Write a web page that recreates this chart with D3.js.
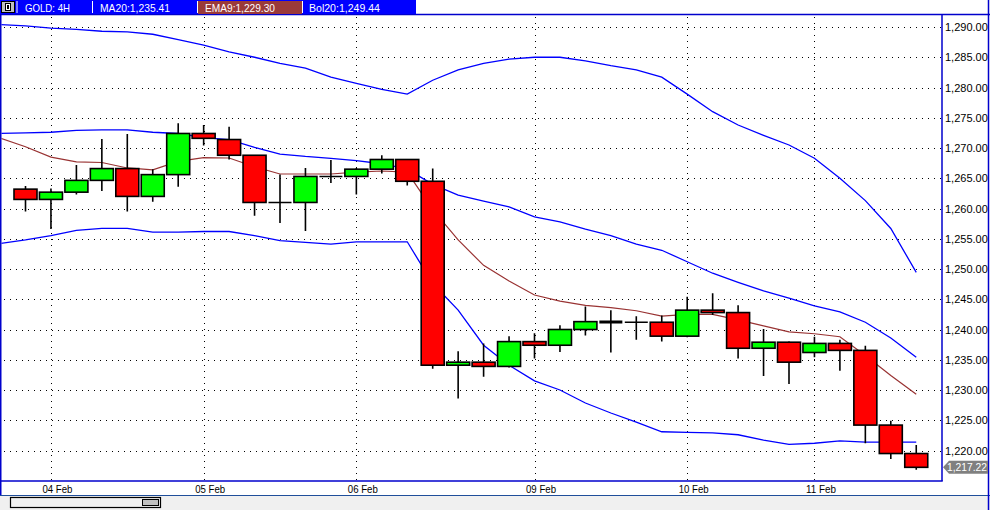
<!DOCTYPE html>
<html><head><meta charset="utf-8">
<script src="https://cdn.jsdelivr.net/npm/d3@7"></script>
<style>
html,body{margin:0;padding:0;background:#fff;overflow:hidden}
svg{display:block;font-family:"Liberation Sans",Arial,sans-serif}
</style></head><body>
<svg id="chart" width="990" height="510"></svg>
<script>
// ---------- data ----------
const symbolLabel = "GOLD: 4H";
const legendLabels = ["MA20:1,235.41", "EMA9:1,229.30", "Bol20:1,249.44"];
const lastClose = 1217.22;

const opens  = [1263.2,1261.5,1262.7,1264.65,1266.6,1262.0,1265.6,1272.4,1271.4,1268.8,1261.0,1261.0,1265.3,1265.3,1266.5,1268.1,1264.5,1234.1,1234.6,1233.9,1238.0,1237.4,1240.0,1241.3,1241.2,1241.2,1238.9,1243.2,1242.8,1236.9,1237.9,1236.2,1237.7,1236.55,1224.2,1219.5];
const highs  = [1263.7,1263.3,1267.2,1271.5,1272.3,1266.5,1274.1,1273.8,1273.5,1268.8,1265.6,1266.7,1268.0,1266.7,1268.8,1268.1,1266.6,1236.4,1237.7,1238.9,1239.4,1240.7,1243.8,1243.2,1242.2,1242.3,1245.4,1246.0,1244.0,1240.1,1238.0,1238.8,1238.3,1237.3,1224.9,1220.9];
const lows   = [1259.5,1256.6,1262.3,1262.9,1259.5,1261.1,1263.6,1270.4,1268.1,1258.8,1257.6,1256.3,1264.2,1262.3,1265.8,1263.8,1233.5,1228.6,1232.2,1233.7,1235.2,1236.3,1239.0,1236.2,1238.3,1238.0,1238.7,1242.4,1235.2,1232.3,1231.0,1235.4,1233.2,1221.2,1218.6,1216.8];
const closes = [1261.5,1262.7,1264.65,1266.6,1262.0,1265.6,1272.4,1271.6,1268.8,1261.0,1261.0,1265.3,1265.3,1266.5,1268.1,1264.5,1234.1,1234.6,1233.9,1238.0,1237.4,1240.0,1241.3,1241.15,1241.2,1238.9,1243.2,1242.8,1236.9,1237.9,1234.6,1237.7,1236.55,1224.2,1219.5,1217.22];

// indicator values start one bar before the first visible candle (index -1)
const bolUpper = [1290.4,1290.2,1289.8,1289.6,1289.3,1289.2,1288.8,1287.9,1287.0,1285.9,1285.0,1284.0,1283.2,1281.7,1280.7,1279.7,1278.9,1281.2,1282.9,1284.0,1284.7,1285.0,1285.0,1284.4,1283.6,1282.9,1281.7,1278.9,1276.0,1273.8,1272.1,1270.5,1268.3,1265.0,1261.3,1256.7,1249.44];
const ma20     = [1272.4,1272.5,1272.6,1272.9,1273.0,1273.0,1272.6,1272.4,1271.7,1271.4,1270.1,1269.0,1268.6,1268.3,1267.9,1267.4,1266.5,1264.0,1262.2,1261.2,1260.25,1258.6,1257.8,1256.6,1255.5,1254.1,1253.1,1251.2,1249.3,1247.8,1246.4,1245.2,1243.9,1242.9,1241.2,1238.6,1235.41];
const bolLower = [1254.2,1254.8,1255.5,1256.4,1256.7,1256.7,1256.1,1256.1,1256.2,1256.2,1255.5,1254.7,1254.4,1254.1,1254.5,1254.5,1254.5,1247.6,1243.2,1237.4,1234.1,1231.5,1230.0,1227.85,1226.2,1224.7,1223.1,1223.0,1222.9,1222.6,1221.7,1221.0,1221.2,1221.6,1221.4,1221.4,1221.38];
const ema9     = [1271.65,1270.2,1268.5,1267.7,1267.6,1266.7,1266.4,1267.8,1268.4,1268.35,1266.9,1265.7,1265.7,1265.7,1266.0,1266.2,1266.0,1259.8,1254.8,1250.6,1248.0,1245.7,1244.7,1244.0,1243.6,1243.1,1242.2,1242.5,1242.5,1241.6,1240.6,1239.6,1239.3,1238.8,1235.7,1232.4,1229.30];

const dateTicks = ["04 Feb","05 Feb","06 Feb","09 Feb","10 Feb","11 Feb"];
const dateTickIndex = [1,7,13,20,26,31];
const priceTicks = [1220,1225,1230,1235,1240,1245,1250,1255,1260,1265,1270,1275,1280,1285,1290];

// ---------- layout ----------
const W = 990, H = 510;
const plot = {l: 1, t: 14, r: 942, b: 481};
const svg = d3.select("#chart");

const x = d3.scaleLinear().domain([-1, 35]).range([0.05, 916.25]);
const y = d3.scaleLinear().domain([1220, 1290]).range([450.5, 27]);

svg.append("rect").attr("x",0).attr("y",0).attr("width",W).attr("height",H).attr("fill","#fff");

svg.append("defs").append("clipPath").attr("id","plotclip")
  .append("rect").attr("x",plot.l+0.5).attr("y",plot.t+1).attr("width",plot.r-plot.l-1).attr("height",plot.b-plot.t-1.5);

const g = svg.append("g").attr("clip-path","url(#plotclip)");

// horizontal dotted grid
g.selectAll("line.hg").data(priceTicks).join("line")
  .attr("class","hg")
  .attr("x1",4).attr("x2",plot.r-1)
  .attr("y1",d=>Math.round(y(d))+0.5).attr("y2",d=>Math.round(y(d))+0.5)
  .attr("stroke","#000").attr("stroke-width",1).attr("stroke-dasharray","1,5");

// vertical dotted grid
g.selectAll("line.vg").data(dateTickIndex).join("line")
  .attr("class","vg")
  .attr("x1",d=>Math.round(x(d))+0.5).attr("x2",d=>Math.round(x(d))+0.5)
  .attr("y1",plot.t+3).attr("y2",plot.b)
  .attr("stroke","#000").attr("stroke-width",1).attr("stroke-dasharray","1,5");

// indicator lines
const line = d3.line().x((d,i)=>x(i-1)).y(d=>y(d));
[[bolUpper,"#0000ff",1.3],[ma20,"#0000ff",1.3],[bolLower,"#0000ff",1.3],[ema9,"#993333",1.2]].forEach(([arr,col,w])=>{
  g.append("path").datum(arr).attr("d",line).attr("fill","none").attr("stroke",col).attr("stroke-width",w);
});

// candles
const candles = opens.map((o,i)=>({i,o,h:highs[i],l:lows[i],c:closes[i]}));
const bw = 23;
const cg = g.selectAll("g.candle").data(candles).join("g").attr("class","candle");
cg.append("line")
  .attr("x1",d=>x(d.i)).attr("x2",d=>x(d.i))
  .attr("y1",d=>y(d.h)).attr("y2",d=>y(d.l))
  .attr("stroke","#000").attr("stroke-width",1.6);
cg.each(function(d){
  const sel = d3.select(this);
  const top = y(Math.max(d.o,d.c)), bot = y(Math.min(d.o,d.c));
  const hgt = bot - top;
  if (hgt < 1.2) {
    sel.append("line")
      .attr("x1",x(d.i)-bw/2).attr("x2",x(d.i)+bw/2)
      .attr("y1",(top+bot)/2).attr("y2",(top+bot)/2)
      .attr("stroke","#000").attr("stroke-width",1.6+hgt*1.5);
  } else {
    sel.append("rect")
      .attr("x",x(d.i)-bw/2).attr("y",top).attr("width",bw).attr("height",hgt)
      .attr("fill",d.c>=d.o?"#00ff00":"#ff0000")
      .attr("stroke","#000").attr("stroke-width",1.6);
  }
});

// ---------- frames ----------
const frameCol = "#0000cc";
svg.append("line").attr("x1",0).attr("x2",W).attr("y1",14.5).attr("y2",14.5).attr("stroke",frameCol).attr("stroke-width",1.5);
svg.append("line").attr("x1",0.75).attr("x2",0.75).attr("y1",14).attr("y2",495).attr("stroke",frameCol).attr("stroke-width",1.5);
svg.append("line").attr("x1",plot.r).attr("x2",plot.r).attr("y1",14).attr("y2",plot.b).attr("stroke",frameCol).attr("stroke-width",1.5);
svg.append("line").attr("x1",0).attr("x2",plot.r+0.75).attr("y1",plot.b).attr("y2",plot.b).attr("stroke",frameCol).attr("stroke-width",1.5);
svg.append("line").attr("x1",988.5).attr("x2",988.5).attr("y1",0).attr("y2",H).attr("stroke",frameCol).attr("stroke-width",1.5);

// ---------- price axis ----------
const yAxis = d3.axisRight(y).tickValues(priceTicks).tickFormat(d3.format(",.2f")).tickSize(0).tickPadding(3);
const ag = svg.append("g").attr("transform",`translate(${plot.r},0)`).call(yAxis);
ag.select(".domain").remove();
ag.selectAll("text").attr("font-size","11px").attr("font-family","'Liberation Sans',Arial,sans-serif").attr("fill","#000");

// last close label
const yc = y(lastClose);
svg.append("path")
  .attr("d",`M943,${yc} L949,${yc-6.5} L988,${yc-6.5} L988,${yc+6.5} L949,${yc+6.5} Z`)
  .attr("fill","#808080");
svg.append("text").attr("x",947).attr("y",yc+4).attr("fill","#fff").attr("font-size","11px")
  .attr("textLength",40).attr("lengthAdjust","spacingAndGlyphs")
  .text(d3.format(",.2f")(lastClose));

// ---------- date axis ----------
svg.selectAll("text.date").data(dateTicks).join("text")
  .attr("class","date")
  .attr("x",(d,i)=>x(dateTickIndex[i])-8.5).attr("y",493)
  .attr("font-size","11px").attr("fill","#000")
  .attr("textLength",30).attr("lengthAdjust","spacingAndGlyphs")
  .text(d=>d);

// ---------- bottom scroll area ----------
svg.append("rect").attr("x",0).attr("y",495).attr("width",W).attr("height",15).attr("fill","#f0f0f0");
svg.append("line").attr("x1",0).attr("x2",W).attr("y1",495.5).attr("y2",495.5).attr("stroke","#1f4e9a").attr("stroke-width",1.2);
svg.append("line").attr("x1",988.5).attr("x2",988.5).attr("y1",495).attr("y2",H).attr("stroke",frameCol).attr("stroke-width",1.5);
svg.append("rect").attr("x",10.5).attr("y",497.5).attr("width",150).attr("height",10).attr("fill","#f0f0f0").attr("stroke","#000").attr("stroke-width",1.2);
svg.append("rect").attr("x",142.5).attr("y",499.5).attr("width",16).attr("height",6).attr("fill","#c0c0c0").attr("stroke","#000").attr("stroke-width",1);

// ---------- header bar ----------
svg.append("rect").attr("x",0).attr("y",0).attr("width",416).attr("height",14).attr("fill","#0000ff");
svg.append("rect").attr("x",1.5).attr("y",1.5).attr("width",13).attr("height",11).attr("fill","#c0c0c0").attr("stroke","#000").attr("stroke-width",1);
svg.append("rect").attr("x",5).attr("y",3).attr("width",6).attr("height",8).attr("fill","#000");
svg.append("rect").attr("x",6.5).attr("y",4.5).attr("width",3).attr("height",5).attr("fill","none").attr("stroke","#fff").attr("stroke-width",1);
svg.append("rect").attr("x",198).attr("y",1).attr("width",104).attr("height",13).attr("fill","#9a3a3a");
[17,92.5,197.5,302.5].forEach(sx=>{
  svg.append("line").attr("x1",sx).attr("x2",sx).attr("y1",1).attr("y2",13).attr("stroke","#fff").attr("stroke-width",1);
});
const headerTexts = [symbolLabel].concat(legendLabels);
const headerX = [25,100,205,309];
const headerLen = [45,70,70,71];
svg.selectAll("text.hdr").data(headerTexts).join("text")
  .attr("class","hdr")
  .attr("x",(d,i)=>headerX[i]).attr("y",11.5)
  .attr("font-size","11px").attr("fill","#fff")
  .attr("textLength",(d,i)=>headerLen[i]).attr("lengthAdjust","spacingAndGlyphs")
  .text(d=>d);
</script>
</body></html>
